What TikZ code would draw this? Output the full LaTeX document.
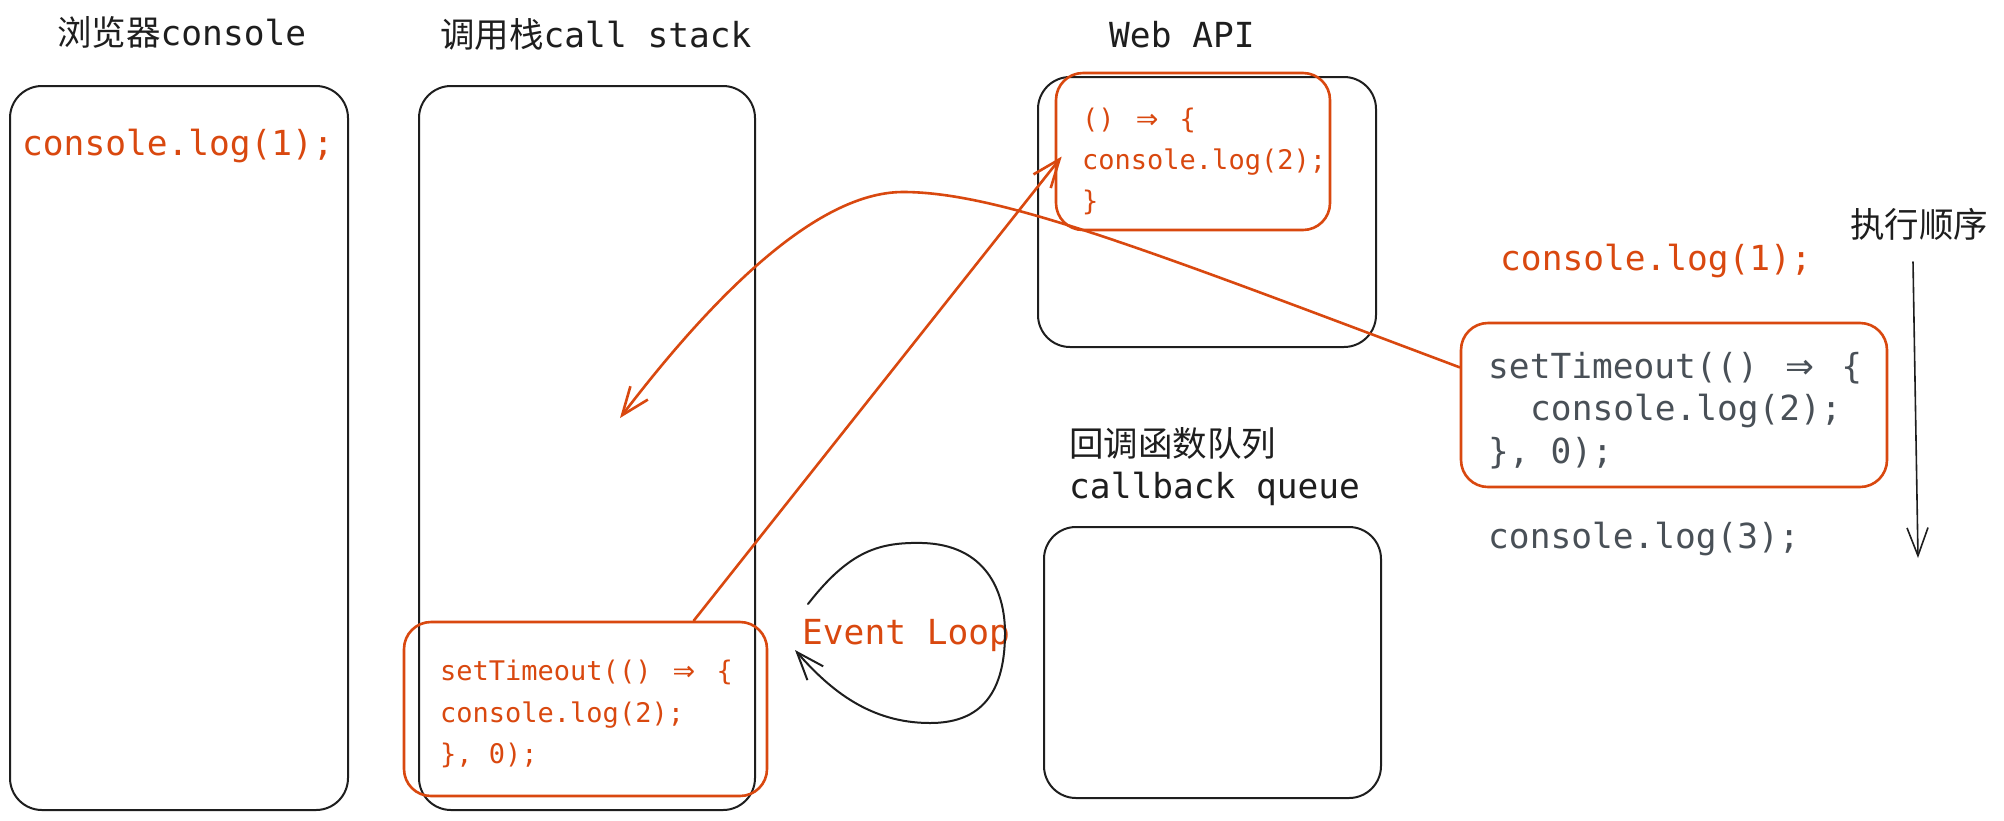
\documentclass[tikz,border=0pt]{standalone}
\usepackage{fontspec}
\setmainfont{DejaVu Sans Mono}
\newfontfamily\cjk{Noto Sans CJK SC}
\newfontfamily\symf{DejaVu Sans}
\usetikzlibrary{arrows.meta,calc}
\definecolor{exred}{HTML}{D9480F}
\definecolor{exgray}{HTML}{495057}
\definecolor{exblack}{HTML}{1E1E1E}
\newcommand{\darr}{\makebox[1.204em]{\symf ⇒}}
\begin{document}
\begin{tikzpicture}[x=1pt,y=-1pt,
  blackbox/.style={draw=exblack, line width=2pt, rounded corners=32pt, inner sep=0pt},
  redbox/.style={draw=exred, line width=2.6pt, rounded corners=27pt, inner sep=0pt},
  big/.style={font=\fontsize{34.5pt}{40pt}\selectfont, inner sep=0pt, anchor=base west, text=exblack},
  small/.style={font=\fontsize{27pt}{32pt}\selectfont, inner sep=0pt, anchor=base west, text=exred},
  redline/.style={draw=exred, line width=2.6pt, line cap=round, line join=round},
  blackline/.style={draw=exblack, line width=2pt, line cap=round, line join=round},
  barb/.style={-{Straight Barb[length=28pt,width=22pt]}},
]
\useasboundingbox[fill=white] (0,0) rectangle (2004,820);

% titles
\node[big] (t1) at (57,45) {{\cjk 浏览器}console};
\node[big] (t2) at (440,47) {{\cjk 调用栈}call stack};
\node[big] (t3) at (1109,47) {Web API};
\node[big] (t4) at (1850,237) {\cjk 执行顺序};
\node[big] (t5) at (1069,456) {\cjk 回调函数队列};
\node[big] (t6) at (1069,498) {callback queue};

% boxes
\node[blackbox, minimum width=338, minimum height=724] (console) at (179,448) {};
\node[blackbox, minimum width=336, minimum height=724] (stack) at (587,448) {};
\node[blackbox, minimum width=338, minimum height=270] (webapi) at (1207,212) {};
\node[blackbox, minimum width=337, minimum height=271] (queue) at (1212.5,662.5) {};
\node[redbox, minimum width=274, minimum height=157] (webcode) at (1193,151.5) {};
\node[redbox, minimum width=363, minimum height=174] (stackcode) at (585.5,709) {};
\node[redbox, minimum width=426, minimum height=164] (rcode) at (1674,405) {};

% texts
\node[big, text=exred] (log1) at (22,155) {console.log(1);};
\node[big, text=exred] (rlog1) at (1500,270) {console.log(1);};
\node[big, text=exgray] (r1) at (1488,378) {setTimeout(() \darr{} \{};
\node[big, text=exgray] (r2) at (1530,420) {console.log(2);};
\node[big, text=exgray] (r3) at (1488,463) {\}, 0);};
\node[big, text=exgray] (rlog3) at (1488,548) {console.log(3);};
\node[big, text=exred] (loop) at (802,644) {Event Loop};

\node[small] (s1) at (440,680) {setTimeout(() \darr{} \{};
\node[small] (s2) at (440,722) {console.log(2);};
\node[small] (s3) at (440,763) {\}, 0);};

\node[small] (w1) at (1082,128) {() \darr{} \{};
\node[small] (w2) at (1082,169) {console.log(2);};
\node[small] (w3) at (1082,210) {\}};

% connectors
\coordinate (ctip) at (620,418);
\coordinate (peak) at (903,192);
\draw[redline, barb] ($(rcode.north west)!0.274!(rcode.south west)$)
  .. controls (1150,251) and (1000,192) .. (peak)
  .. controls (815,192) and (710,300) .. (ctip);

\draw[redline, barb] ($(stackcode.north west)!0.796!(stackcode.north east)$) -- ([xshift=7pt,yshift=-5pt]webcode.west);

\coordinate (loopA) at (808,604);
\coordinate (loopB) at (795,650);
\draw[blackline, -{Straight Barb[length=28pt,width=21pt]}] (loopA)
  .. controls (850,550) and (880,542) .. (923,543)
  .. controls (985,545) and (1005,590) .. (1005,633)
  .. controls (1005,700) and (975,723) .. (930,723)
  .. controls (870,723) and (830,690) .. (loopB);

\coordinate (ordTop) at (1913,262);
\coordinate (ordBot) at (1918,558);
\draw[blackline, line width=1.6pt, -{Straight Barb[length=28pt,width=21pt]}] (ordTop) -- (ordBot);
\end{tikzpicture}
\end{document}
